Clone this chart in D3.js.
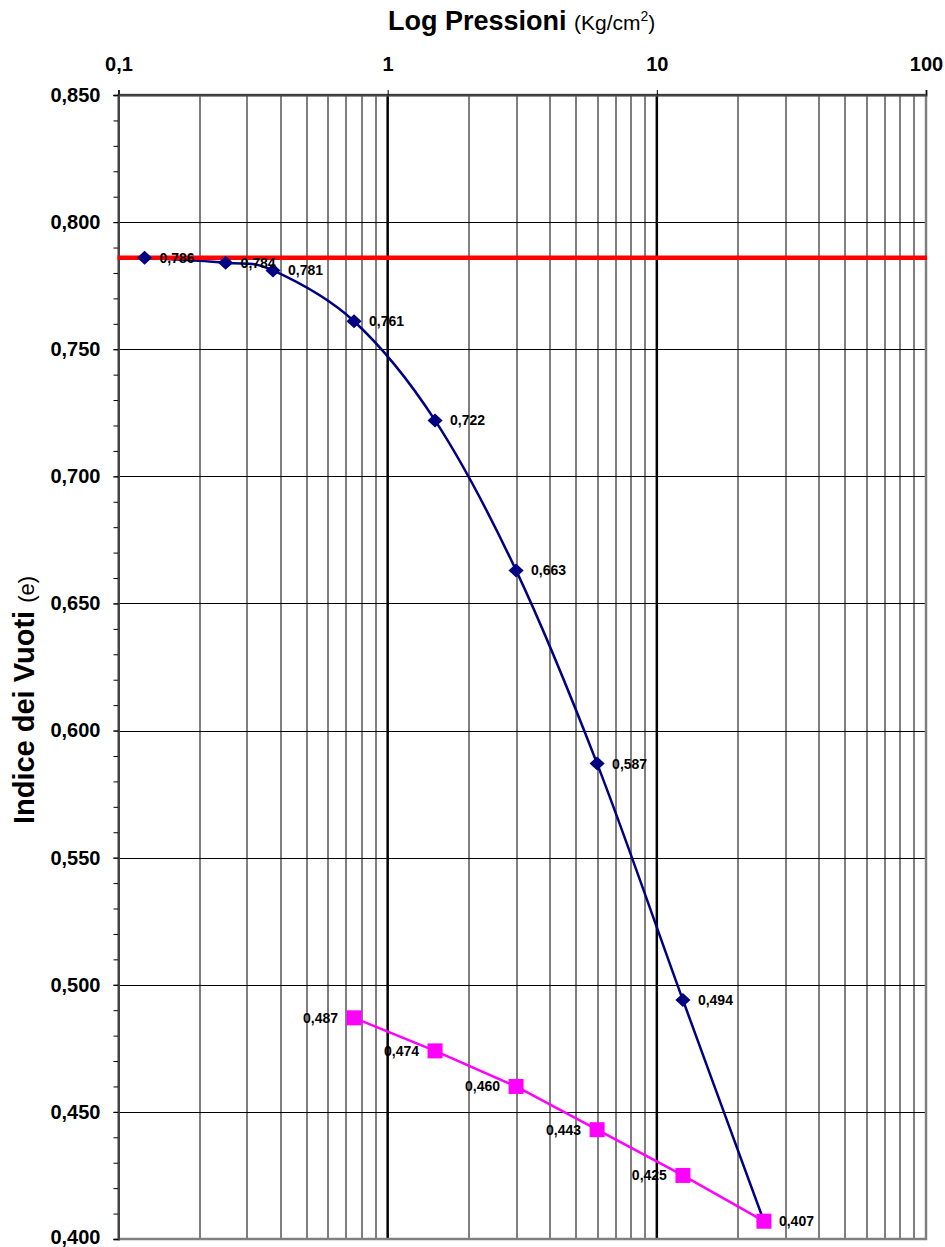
<!DOCTYPE html>
<html>
<head>
<meta charset="utf-8">
<script src="https://cdn.jsdelivr.net/npm/d3@7"></script>
<style>
    body { margin: 0; background: #fff; }
    svg { font-family: 'Liberation Sans', Arial, sans-serif; }
</style>
</head>
<body>
<div id="chart"></div>
<script>
// loading curve (carico)
const pressLoad = [0.125, 0.25, 0.375, 0.75, 1.5, 3, 6, 12.5, 25],
    voidLoad = [0.786, 0.784, 0.781, 0.761, 0.722, 0.663, 0.587, 0.494, 0.407],
    // unloading curve (scarico)
    pressUnload = [0.75, 1.5, 3, 6, 12.5, 25],
    voidUnload = [0.487, 0.474, 0.460, 0.443, 0.425, 0.407],
    refLine = 0.786,
    xTicks = [0.1, 1, 10, 100],
    yTicks = [0.400, 0.450, 0.500, 0.550, 0.600, 0.650, 0.700, 0.750, 0.800, 0.850];

const W = 945, H = 1247,
    margin = { top: 95, left: 118.5, right: 19, bottom: 8 },
    width = W - margin.left - margin.right,
    height = H - margin.top - margin.bottom;

const locale = d3.formatLocale({ decimal: ',', thousands: '.', grouping: [3], currency: ['', ''] }),
    fmt3 = locale.format('.3f'),
    fmtX = d => String(d).replace('.', ',');

const svg = d3.select('#chart').append('svg')
    .attr('width', W)
    .attr('height', H);

const g = svg.append('g')
    .attr('transform', `translate(${[margin.left, margin.top]})`);

const x = d3.scaleLog().domain([0.1, 100]).range([0, width]),
    y = d3.scaleLinear().domain([0.4, 0.85]).range([height, 0]);

// grid
const minorX = [];
[0.1, 1, 10].forEach(dec => {
    for (let k = 2; k <= 9; k++) minorX.push(dec * k);
});

g.append('g')
    .selectAll('line')
    .data(minorX)
    .enter().append('line')
    .attr('x1', d => Math.round(x(d)) + 0.5)
    .attr('x2', d => Math.round(x(d)) + 0.5)
    .attr('y1', 0)
    .attr('y2', height)
    .attr('stroke', '#000')
    .attr('stroke-width', 1);

g.append('g')
    .selectAll('line')
    .data(yTicks.slice(1, -1))
    .enter().append('line')
    .attr('x1', 0)
    .attr('x2', width)
    .attr('y1', d => Math.round(y(d)) + 0.5)
    .attr('y2', d => Math.round(y(d)) + 0.5)
    .attr('stroke', '#000')
    .attr('stroke-width', 1);

g.append('g')
    .selectAll('line')
    .data([1, 10])
    .enter().append('line')
    .attr('x1', d => x(d))
    .attr('x2', d => x(d))
    .attr('y1', 0)
    .attr('y2', height)
    .attr('stroke', '#000')
    .attr('stroke-width', 2.5);

// plot border
g.append('rect')
    .attr('x', 0)
    .attr('y', 0)
    .attr('width', width)
    .attr('height', height)
    .attr('fill', 'none')
    .attr('stroke', '#808080')
    .attr('stroke-width', 2.5);

g.append('line')
    .attr('x1', 0).attr('x2', width)
    .attr('y1', 0).attr('y2', 0)
    .attr('stroke', '#333')
    .attr('stroke-width', 2);

// axes
const xAxis = g.append('g')
    .call(d3.axisTop(x).tickValues(xTicks).tickFormat(fmtX).tickSize(5).tickPadding(19));

const yMinor = d3.range(40, 86).map(v => v / 100);
g.append('g')
    .call(d3.axisLeft(y).tickValues(yMinor).tickFormat('').tickSize(5))
    .call(a => a.select('.domain').remove());

const yAxis = g.append('g')
    .call(d3.axisLeft(y).tickValues(yTicks).tickFormat(fmt3).tickSize(5).tickPadding(13));

[xAxis, yAxis].forEach(a => {
    a.select('.domain').attr('stroke', '#444').attr('stroke-width', 2);
    a.selectAll('.tick line').attr('stroke', '#000');
    a.selectAll('.tick text')
        .attr('fill', '#000')
        .style('font-size', '20px')
        .style('font-weight', 'bold')
        .style('font-family', 'Liberation Sans, Arial, sans-serif');
});

// keep the bottom label inside the page
yAxis.selectAll('.tick text')
    .filter(d => d === 0.4)
    .attr('dy', '0.22em');

// series
const loadData = pressLoad.map((p, i) => ({ p: p, e: voidLoad[i] })),
    unloadData = pressUnload.map((p, i) => ({ p: p, e: voidUnload[i] }));

const smooth = d3.line()
    .x(d => x(d.p))
    .y(d => y(d.e))
    .curve(d3.curveCatmullRom.alpha(0));

const straight = d3.line()
    .x(d => x(d.p))
    .y(d => y(d.e));

g.append('path')
    .datum(loadData)
    .attr('d', smooth)
    .attr('fill', 'none')
    .attr('stroke', '#000080')
    .attr('stroke-width', 2.5);

g.append('path')
    .datum(unloadData)
    .attr('d', straight)
    .attr('fill', 'none')
    .attr('stroke', '#FF00FF')
    .attr('stroke-width', 2.5);

g.append('line')
    .attr('x1', -1)
    .attr('x2', width + 1)
    .attr('y1', y(refLine))
    .attr('y2', y(refLine))
    .attr('stroke', '#FF0000')
    .attr('stroke-width', 4.5);

g.append('g')
    .selectAll('path')
    .data(loadData)
    .enter().append('path')
    .attr('d', d3.symbol().type(d3.symbolDiamond2).size(125))
    .attr('transform', d => `translate(${[x(d.p), y(d.e)]}) scale(1.08,1)`)
    .attr('fill', '#000080');

g.append('g')
    .selectAll('rect')
    .data(unloadData)
    .enter().append('rect')
    .attr('x', d => x(d.p) - 7.5)
    .attr('y', d => y(d.e) - 7.5)
    .attr('width', 15)
    .attr('height', 15)
    .attr('fill', '#FF00FF');

// data labels
g.append('g')
    .selectAll('text')
    .data(loadData)
    .enter().append('text')
    .attr('x', d => x(d.p) + 15)
    .attr('y', d => y(d.e) + 5)
    .text(d => fmt3(d.e))
    .style('font-size', '14px')
    .style('font-weight', 'bold');

g.append('g')
    .selectAll('text')
    .data(unloadData.slice(0, -1))
    .enter().append('text')
    .attr('x', d => x(d.p) - 16)
    .attr('y', d => y(d.e) + 5)
    .attr('text-anchor', 'end')
    .text(d => fmt3(d.e))
    .style('font-size', '14px')
    .style('font-weight', 'bold');

// titles
const xTitle = svg.append('text')
    .attr('x', 388)
    .attr('y', 30);
xTitle.append('tspan').text('Log Pressioni ').style('font-size', '27px').style('font-weight', 'bold');
xTitle.append('tspan').text('(Kg/cm').style('font-size', '21px');
xTitle.append('tspan').text('2').style('font-size', '14px').attr('dy', -9);
xTitle.append('tspan').text(')').style('font-size', '21px').attr('dy', 9);

const yTitle = svg.append('text')
    .attr('transform', 'translate(34,700) rotate(-90)')
    .attr('text-anchor', 'middle');
yTitle.append('tspan').text('Indice dei Vuoti ').style('font-size', '29px').style('font-weight', 'bold');
yTitle.append('tspan').text('(e)').style('font-size', '22px');
</script>
</body>
</html>
